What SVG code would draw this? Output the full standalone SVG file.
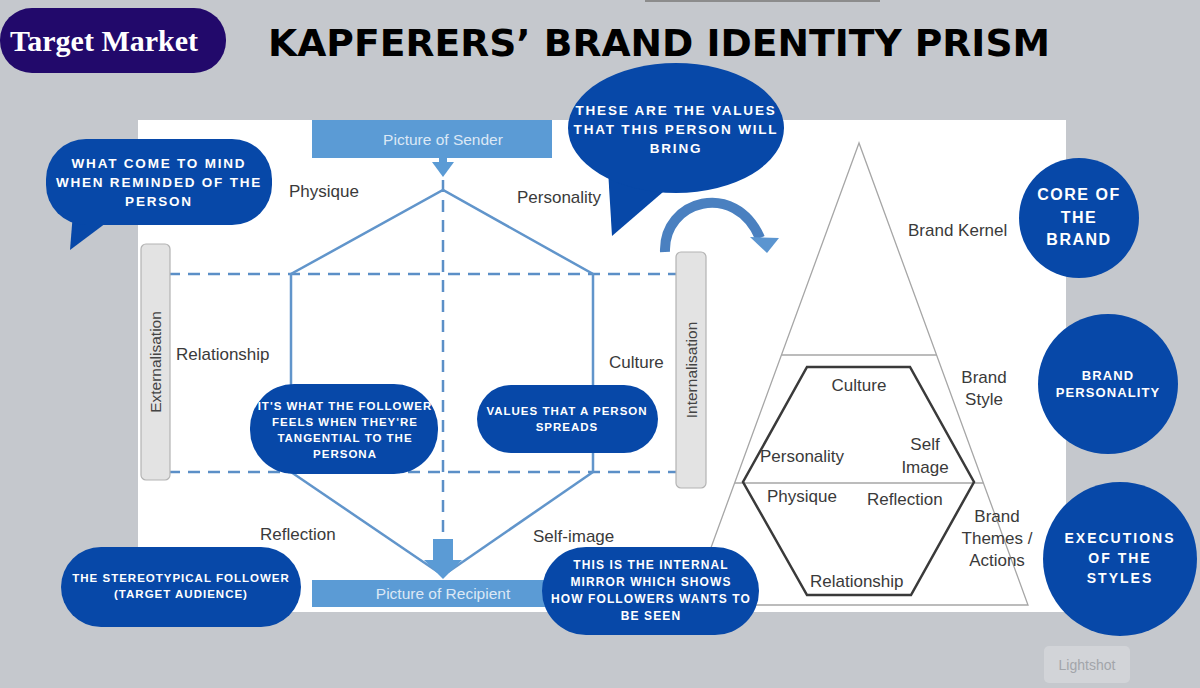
<svg xmlns="http://www.w3.org/2000/svg" width="1200" height="688" viewBox="0 0 1200 688">
<style>
.lbl{font-family:"Liberation Sans",Arial,sans-serif;font-size:17px;fill:#3a3a3a}
.bar{fill:#5b9bd5}
.bartxt{font-family:"Liberation Sans",Arial,sans-serif;font-size:15.5px;fill:#dce8f5;text-anchor:middle}
.bub{fill:#0748a8}
.bt{font-family:"Liberation Sans",Arial,sans-serif;font-size:12px;font-weight:bold;fill:#ffffff;text-anchor:middle;letter-spacing:1.1px}
.bl{font-size:13.5px;letter-spacing:1.8px}
.bs{font-size:11.5px;letter-spacing:1px}
.ct{font-family:"Liberation Sans",Arial,sans-serif;font-size:16px;font-weight:bold;fill:#ffffff;text-anchor:middle;letter-spacing:1.5px}
.dash{stroke:#5b8fc7;stroke-width:2.5;stroke-dasharray:12 8;fill:none}
.hex{stroke:#6195cb;stroke-width:2.5;fill:none}
.side{fill:#e3e3e3;stroke:#b3b3b3;stroke-width:1.2}
.sidetxt{font-family:"Liberation Sans",Arial,sans-serif;font-size:15.5px;fill:#444;text-anchor:middle}
.tri{stroke:#a6a6a6;stroke-width:1.3;fill:none}
</style>
<rect x="0" y="0" width="1200" height="688" fill="#c5c8cd"/>
<rect x="645" y="0" width="235" height="2" fill="#8c8c8c"/>
<rect x="138" y="120" width="928" height="492" fill="#ffffff"/>

<g id="target-market">
<rect x="0" y="8" width="226" height="65" rx="32" fill="#22096b"/>
<text x="104" y="51" font-family="Liberation Serif,'Times New Roman',serif" font-size="30" font-weight="bold" fill="#ffffff" text-anchor="middle">Target Market</text>
</g>
<g id="title">
<text x="268" y="56" font-family="DejaVu Sans,Arial,sans-serif" font-size="37" font-weight="bold" fill="#000" textLength="782" lengthAdjust="spacingAndGlyphs">KAPFERERS’ BRAND IDENTITY PRISM</text>
</g>

<g id="connectors">
<line class="dash" x1="168" y1="274" x2="678" y2="274"/>
<line class="dash" x1="168" y1="472" x2="678" y2="472"/>
<line class="dash" x1="443" y1="180" x2="443" y2="540"/>
<polyline class="hex" points="291,472 291,274 443,190 593,274 593,472"/>
<line class="hex" x1="291" y1="472" x2="438" y2="572"/>
<line class="hex" x1="593" y1="472" x2="448" y2="572"/>
<rect x="439" y="158" width="8" height="6" fill="#5b9bd5"/>
<polygon points="432,162 454,162 443,177" fill="#5b9bd5"/>
<rect x="433" y="539" width="20" height="22" fill="#5b9bd5"/>
<polygon points="424,560 462,560 443,579" fill="#5b9bd5"/>
<path d="M 665 252 C 663 200 735 180 760 238" stroke="#4a80c0" stroke-width="10" fill="none"/>
<polygon points="750,237 779,238 767,253" fill="#5b95d0"/>
</g>

<g id="picture-of-sender">
<rect class="bar" x="312" y="120" width="240" height="38"/>
<text class="bartxt" x="443" y="145">Picture of Sender</text>
</g>
<g id="picture-of-recipient">
<rect class="bar" x="312" y="580" width="250" height="27"/>
<text class="bartxt" x="443" y="599">Picture of Recipient</text>
</g>
<g id="externalisation">
<rect class="side" x="141" y="244" width="29" height="236" rx="5"/>
<text class="sidetxt" transform="translate(161,362) rotate(-90)">Externalisation</text>
</g>
<g id="internalisation">
<rect class="side" x="676" y="252" width="30" height="236" rx="5"/>
<text class="sidetxt" transform="translate(697,370) rotate(-90)">Internalisation</text>
</g>
<g id="prism-labels">
<text class="lbl" x="289" y="197">Physique</text>
<text class="lbl" x="517" y="203">Personality</text>
<text class="lbl" x="176" y="360">Relationship</text>
<text class="lbl" x="609" y="368">Culture</text>
<text class="lbl" x="260" y="540">Reflection</text>
<text class="lbl" x="533" y="542">Self-image</text>
</g>

<g id="pyramid">
<polygon class="tri" points="859,143 690,605 1028,605"/>
<line class="tri" x1="782" y1="355" x2="937" y2="355"/>
<line class="tri" x1="735" y1="483" x2="983" y2="483"/>
<polygon points="807,367 910,367 974,482 911,595 807,595 743,482" fill="none" stroke="#3a3a3a" stroke-width="2.5"/>
<text class="lbl" x="859" y="391" text-anchor="middle">Culture</text>
<text class="lbl" x="760" y="462">Personality</text>
<text class="lbl" x="925" y="450" text-anchor="middle">Self</text>
<text class="lbl" x="925" y="473" text-anchor="middle">Image</text>
<text class="lbl" x="767" y="502">Physique</text>
<text class="lbl" x="867" y="505">Reflection</text>
<text class="lbl" x="810" y="587">Relationship</text>
<text class="lbl" x="908" y="236">Brand Kernel</text>
<text class="lbl" x="984" y="383" text-anchor="middle">Brand</text>
<text class="lbl" x="984" y="405" text-anchor="middle">Style</text>
<text class="lbl" x="997" y="522" text-anchor="middle">Brand</text>
<text class="lbl" x="997" y="544" text-anchor="middle">Themes /</text>
<text class="lbl" x="997" y="566" text-anchor="middle">Actions</text>
</g>

<g id="bubble-physique">
<polygon class="bub" points="74,200 70,250 110,220 96,212"/>
<rect class="bub" x="46" y="139" width="226" height="86" rx="40"/>
<text class="bt bl" x="159" y="168">WHAT COME TO MIND</text>
<text class="bt bl" x="159" y="187">WHEN REMINDED OF THE</text>
<text class="bt bl" x="159" y="206">PERSON</text>
</g>
<g id="bubble-personality">
<polygon class="bub" points="608,170 612,236 670,186"/>
<ellipse class="bub" cx="676" cy="128" rx="108" ry="65"/>
<text class="bt bl" x="676" y="115">THESE ARE THE VALUES</text>
<text class="bt bl" x="676" y="134">THAT THIS PERSON WILL</text>
<text class="bt bl" x="676" y="153">BRING</text>
</g>
<g id="bubble-relationship">
<rect class="bub" x="250" y="384" width="188" height="90" rx="44"/>
<text class="bt bs" x="345" y="410">IT'S WHAT THE FOLLOWER</text>
<text class="bt bs" x="345" y="426">FEELS WHEN THEY'RE</text>
<text class="bt bs" x="345" y="442">TANGENTIAL TO THE</text>
<text class="bt bs" x="345" y="458">PERSONA</text>
</g>
<g id="bubble-culture">
<rect class="bub" x="477" y="385" width="181" height="68" rx="34"/>
<text class="bt bs" x="567" y="415">VALUES THAT A PERSON</text>
<text class="bt bs" x="567" y="431">SPREADS</text>
</g>
<g id="bubble-reflection">
<rect class="bub" x="61" y="547" width="240" height="80" rx="40"/>
<text class="bt bs" x="181" y="582">THE STEREOTYPICAL FOLLOWER</text>
<text class="bt bs" x="181" y="598">(TARGET AUDIENCE)</text>
</g>
<g id="bubble-self-image">
<rect class="bub" x="542" y="547" width="217" height="88" rx="44"/>
<text class="bt" x="651" y="569">THIS IS THE INTERNAL</text>
<text class="bt" x="651" y="586">MIRROR WHICH SHOWS</text>
<text class="bt" x="651" y="603">HOW FOLLOWERS WANTS TO</text>
<text class="bt" x="651" y="620">BE SEEN</text>
</g>
<g id="circle-core">
<circle class="bub" cx="1079" cy="218" r="60"/>
<text class="ct" x="1079" y="200">CORE OF</text>
<text class="ct" x="1079" y="223">THE</text>
<text class="ct" x="1079" y="245">BRAND</text>
</g>
<g id="circle-personality">
<circle class="bub" cx="1108" cy="384" r="70"/>
<text class="bt" x="1108" y="380" style="font-size:13px">BRAND</text>
<text class="bt" x="1108" y="397" style="font-size:13px">PERSONALITY</text>
</g>
<g id="circle-executions">
<circle class="bub" cx="1120" cy="559" r="77"/>
<text class="bt" x="1120" y="543" style="font-size:14px;letter-spacing:2px">EXECUTIONS</text>
<text class="bt" x="1120" y="563" style="font-size:14px;letter-spacing:2px">OF THE</text>
<text class="bt" x="1120" y="583" style="font-size:14px;letter-spacing:2px">STYLES</text>
</g>
<g id="lightshot">
<rect x="1044" y="646" width="86" height="37" rx="5" fill="#d2d4d8"/>
<text x="1087" y="670" font-family="Liberation Sans,Arial,sans-serif" font-size="14" fill="#a2a5aa" text-anchor="middle">Lightshot</text>
</g>
</svg>
